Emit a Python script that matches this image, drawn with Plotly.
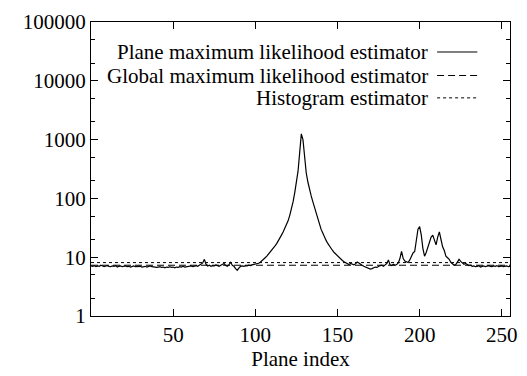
import plotly.graph_objects as go

plane_index = list(range(256))
plane_ml = [
    7.1, 7.0, 7.2, 6.9, 7.1, 7.0, 7.3, 7.0, 6.9, 7.1, 7.2, 7.0, 6.9, 7.1, 7.0, 7.2, 6.8, 7.0, 7.1, 6.9,
    7.0, 7.1, 6.9, 7.0, 6.8, 7.0, 7.1, 6.9, 7.0, 6.9, 7.0, 6.8, 6.9, 7.0, 6.8, 6.9, 7.1, 6.9, 6.8, 6.9,
    6.7, 6.8, 6.9, 6.7, 6.8, 6.6, 6.8, 6.7, 6.9, 6.7, 6.8, 6.6, 6.8, 6.7, 6.9, 6.8, 7.0, 6.8, 6.9, 7.0,
    6.9, 7.1, 6.9, 7.0, 7.2, 7.0, 7.3, 7.6, 8.0, 9.2, 7.6, 7.1, 7.3, 7.0, 7.2, 7.1, 7.4, 7.2, 7.0, 7.3,
    7.6, 7.8, 7.2, 7.0, 7.5, 8.2, 7.3, 7.0, 6.4, 6.0, 6.5, 7.0, 7.1, 7.0, 7.2, 7.1, 7.3, 7.2, 7.4, 7.5,
    7.6, 7.7, 7.9, 8.2, 8.6, 9.2, 9.8, 10.4, 11.2, 12.2, 13.2, 14.4, 15.6, 17.0, 18.8, 21, 24, 27, 31, 35,
    42, 52, 66, 88, 125, 185, 290, 600, 1250, 1000, 500, 270, 190, 140, 110, 88, 70, 56, 45, 36,
    30, 26, 22, 19.5, 17.3, 15.5, 14.2, 13.0, 12.0, 11.2, 10.5, 9.9, 9.3, 8.8, 8.4, 8.0, 7.6, 7.5, 7.8, 7.6,
    7.4, 7.7, 8.3, 8.0, 7.5, 7.3, 7.0, 6.8, 6.6, 6.5, 6.3, 6.4, 6.6, 6.8, 6.7, 7.0, 7.2, 7.3, 7.0, 7.4,
    7.8, 9.0, 7.4, 7.2, 7.6, 7.3, 7.5, 8.0, 9.5, 12.6, 9.5, 8.6, 8.3, 8.1, 9.0, 10.5, 11.8, 12.5, 20, 30,
    33, 24, 14, 10.4, 12, 15, 19, 22, 23.7, 19, 16.2, 22, 27, 20, 15, 13, 10.4, 9.8, 9.2, 8.2,
    7.6, 7.3, 7.5, 8.2, 9.2, 8.5, 8.0, 7.6, 7.8, 7.4, 7.2, 7.3, 7.0, 7.1, 6.9, 7.0, 7.2, 6.8, 7.0, 7.1,
    6.9, 7.0, 7.2, 7.0, 6.9, 7.1, 7.0, 7.2, 6.9, 7.0, 7.1, 6.9, 7.0, 7.1, 6.9, 7.0,
]
global_ml = 7.3
histogram_est = 8.1
x_ticks = [50, 100, 150, 200, 250]
y_ticks = [1, 10, 100, 1000, 10000, 100000]
y_tick_labels = ["1", "10", "100", "1000", "10000", "100000"]
y_minor_ticks = [2, 5, 20, 50, 200, 500, 2000, 5000, 20000, 50000]

names = ["Plane maximum likelihood estimator",
         "Global maximum likelihood estimator",
         "Histogram estimator"]
dashes = ["solid", "7px,4px", "3px,3px"]

FONT = "Liberation Serif, Tinos, Times New Roman, DejaVu Serif, serif"
fig = go.Figure()
fig.add_trace(go.Scatter(x=plane_index, y=plane_ml, mode="lines",
                         line=dict(color="black", width=1.2), name=names[0], showlegend=False))
fig.add_trace(go.Scatter(x=[plane_index[0], plane_index[-1]], y=[global_ml, global_ml], mode="lines",
                         line=dict(color="black", width=1, dash=dashes[1]), name=names[1], showlegend=False))
fig.add_trace(go.Scatter(x=[plane_index[0], plane_index[-1]], y=[histogram_est, histogram_est], mode="lines",
                         line=dict(color="black", width=1, dash=dashes[2]), name=names[2], showlegend=False))

# gnuplot-style key: right-aligned text with line sample on its right
rows_y = [0.898, 0.818, 0.742]
for name, dash, yy in zip(names, dashes, rows_y):
    fig.add_annotation(x=0.808, y=yy, xref="paper", yref="paper", text=name, showarrow=False,
                       xanchor="right", yanchor="middle", font=dict(family=FONT, size=21, color="black"))
    fig.add_shape(type="line", xref="paper", yref="paper", x0=0.826, x1=0.922, y0=yy, y1=yy,
                  line=dict(color="black", width=1, dash=dash))

axis_common = dict(showline=True, linecolor="black", linewidth=1.2, mirror="ticks",
                   ticks="inside", ticklen=7, tickwidth=1, tickcolor="black",
                   showgrid=False, zeroline=False,
                   tickfont=dict(family=FONT, size=21, color="black"))
fig.update_xaxes(range=[0, 255], tickvals=x_ticks, **axis_common,
                 title=dict(text="Plane index", font=dict(family=FONT, size=21, color="black"), standoff=4))
fig.update_yaxes(type="log", range=[0, 5], tickvals=y_ticks, ticktext=y_tick_labels, **axis_common,
                 minor=dict(ticks="inside", ticklen=4, tickwidth=1, tickcolor="black",
                            tickvals=y_minor_ticks, showgrid=False))
fig.update_layout(width=527, height=376, margin=dict(l=91, r=10, t=22, b=51),
                  font=dict(family=FONT),
                  paper_bgcolor="white", plot_bgcolor="white", showlegend=False)
fig.write_html("out.html")
